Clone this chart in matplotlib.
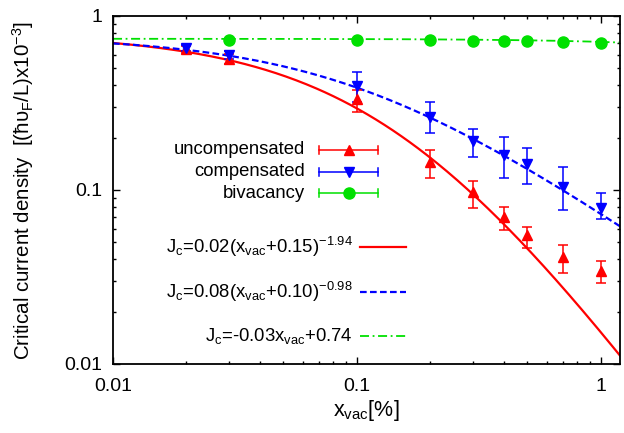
import numpy as np
import matplotlib
matplotlib.use("Agg")
import matplotlib.pyplot as plt
from matplotlib.ticker import LogLocator, NullFormatter, FixedLocator, FixedFormatter

plt.rcParams['font.family'] = ['Liberation Sans', 'DejaVu Sans']
plt.rcParams['mathtext.fontset'] = 'custom'
plt.rcParams['mathtext.rm'] = 'Liberation Sans'
plt.rcParams['mathtext.it'] = 'Liberation Sans:italic'
plt.rcParams['mathtext.default'] = 'regular'

# ---- data ----
x_unc = [0.02, 0.03, 0.1, 0.2, 0.3, 0.4, 0.5, 0.7, 1.0]
y_unc = [0.645, 0.569, 0.332, 0.145, 0.0976, 0.0702, 0.055, 0.0412, 0.0341]
lo_unc = [0.616, 0.531, 0.281, 0.117, 0.0787, 0.0588, 0.0465, 0.0332, 0.0294]
hi_unc = [0.673, 0.607, 0.376, 0.170, 0.113, 0.0796, 0.0616, 0.0483, 0.0389]

x_com = [0.02, 0.03, 0.1, 0.2, 0.3, 0.4, 0.5, 0.7, 1.0]
y_com = [0.654, 0.597, 0.396, 0.263, 0.19, 0.158, 0.141, 0.104, 0.0787]
lo_com = [0.626, 0.564, 0.32, 0.212, 0.155, 0.117, 0.108, 0.0768, 0.0683]
hi_com = [0.683, 0.626, 0.474, 0.32, 0.224, 0.202, 0.174, 0.136, 0.0967]

x_biv = [0.03, 0.1, 0.2, 0.3, 0.4, 0.5, 0.7, 1.0]
y_biv = [0.728, 0.728, 0.725, 0.72, 0.72, 0.718, 0.712, 0.697]

fit_unc = (0.02, 0.15, -1.94)   # a*(x+b)^c
fit_com = (0.08, 0.10, -0.98)
fit_biv = (-0.03, 0.74)          # m*x + c

labels = ['uncompensated', 'compensated', 'bivacancy']
fit_labels = [r'J$_{c}$=0.02(x$_{vac}$+0.15)$^{-1.94}$',
              r'J$_{c}$=0.08(x$_{vac}$+0.10)$^{-0.98}$',
              r'J$_{c}$=-0.03x$_{vac}$+0.74']
xticks = [0.01, 0.1, 1]
xticklabels = ['0.01', '0.1', '1']
yticks = [0.01, 0.1, 1]
yticklabels = ['0.01', '0.1', '1']

RED = '#ff0000'
BLUE = '#0000ff'
GREEN = '#00e000'

fig = plt.figure(figsize=(6.24, 4.33), dpi=100)
ax = fig.add_axes([113/624, 1-364/433, 507/624, 348/433])
ax.set_xscale('log')
ax.set_yscale('log')
ax.set_xlim(0.01, 1.2)
ax.set_ylim(0.01, 1)

xs = np.logspace(-2, np.log10(1.2), 300)
ax.plot(xs, fit_unc[0]*(xs+fit_unc[1])**fit_unc[2], color=RED, lw=1.6, zorder=2)
ax.plot(xs, fit_com[0]*(xs+fit_com[1])**fit_com[2], color=BLUE, lw=1.6,
        dashes=(3, 1.5), zorder=2)
ax.plot(xs, fit_biv[0]*xs+fit_biv[1], color=GREEN, lw=1.3,
        dashes=(5, 2, 1, 2), zorder=2)

def eb(x, y, lo, hi, color, marker):
    y = np.array(y); lo = np.array(lo); hi = np.array(hi)
    ax.errorbar(x, y, yerr=[y-lo, hi-y], fmt=marker, color=color, ms=7,
                capsize=3.5, elinewidth=1.1, capthick=1.1, zorder=3)

eb(x_unc, y_unc, lo_unc, hi_unc, RED, '^')
eb(x_com, y_com, lo_com, hi_com, BLUE, 'v')
ax.plot(x_biv, y_biv, 'o', color=GREEN, ms=8, zorder=3)

# legend (gnuplot-style key)
fs = 13.3
rows = [0.615, 0.552, 0.491]
specs = [(RED, '^'), (BLUE, 'v'), (GREEN, 'o')]
for lab, yy, (c, m) in zip(labels, rows, specs):
    ax.text(0.379, yy, lab, transform=ax.transAxes, ha='right', va='center', fontsize=fs)
    ax.plot([0.406, 0.523], [yy, yy], color=c, lw=1.1, transform=ax.transAxes, clip_on=False)
    for xe in (0.406, 0.523):
        ax.plot([xe, xe], [yy-0.012, yy+0.012], color=c, lw=1.1, transform=ax.transAxes)
    ax.plot([0.465], [yy], marker=m, color=c, ms=7 if m != 'o' else 8, transform=ax.transAxes)

frows = [0.336, 0.207, 0.080]
fstyles = [dict(color=RED, lw=1.6),
           dict(color=BLUE, lw=1.6, dashes=(3, 1.5)),
           dict(color=GREEN, lw=1.3, dashes=(5, 2, 1, 2))]
for lab, yy, st in zip(fit_labels, frows, fstyles):
    ax.text(0.473, yy, lab, transform=ax.transAxes, ha='right', va='center', fontsize=fs)
    ax.plot([0.487, 0.578], [yy, yy], transform=ax.transAxes, **st)

ax.xaxis.set_major_locator(FixedLocator(xticks))
ax.xaxis.set_major_formatter(FixedFormatter(xticklabels))
ax.yaxis.set_major_locator(FixedLocator(yticks))
ax.yaxis.set_major_formatter(FixedFormatter(yticklabels))
ax.xaxis.set_minor_locator(LogLocator(base=10, subs=np.arange(2, 10), numticks=20))
ax.yaxis.set_minor_locator(LogLocator(base=10, subs=np.arange(2, 10), numticks=20))
ax.xaxis.set_minor_formatter(NullFormatter())
ax.yaxis.set_minor_formatter(NullFormatter())
ax.tick_params(which='both', direction='in', top=True, right=True, labelsize=14)
ax.tick_params(which='major', length=5, width=1)
ax.tick_params(which='minor', length=2.5, width=1)
ax.tick_params(axis='x', pad=10)
ax.tick_params(axis='y', pad=8)
for s in ax.spines.values():
    s.set_linewidth(1.3)

ax.set_xlabel(r'x$_{vac}$[%]', fontsize=15.5, labelpad=2)
ax.set_ylabel(r'Critical current density  [(ħυ$_{F}$/L)x10$^{-3}$]', fontsize=14.8, labelpad=20)

fig.savefig('out.png', dpi=100)
